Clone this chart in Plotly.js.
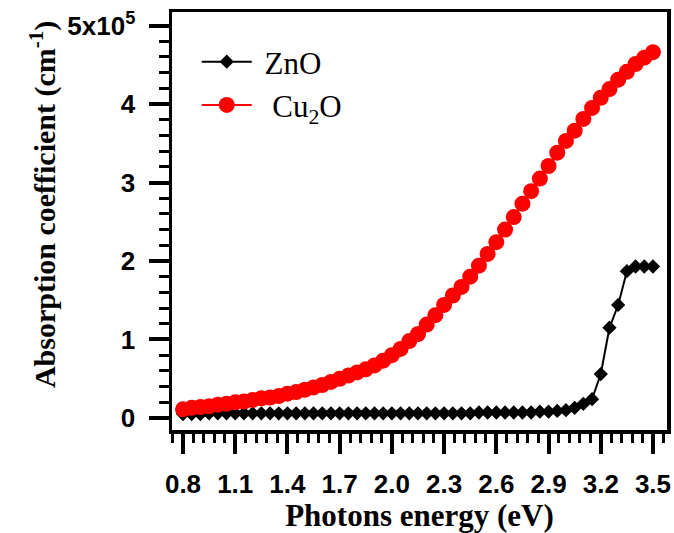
<!DOCTYPE html>
<html>
<head>
<meta charset="utf-8">
<script src="https://cdn.plot.ly/plotly-3.0.1.min.js"></script>
<style>html,body{margin:0;padding:0;background:#fff;}</style>
</head>
<body>
<div id="chart" style="width:674px;height:533px;"></div>
<script>
const energy = [0.80,0.85,0.90,0.95,1.00,1.05,1.10,1.15,1.20,1.25,
  1.30,1.35,1.40,1.45,1.50,1.55,1.60,1.65,1.70,1.75,
  1.80,1.85,1.90,1.95,2.00,2.05,2.10,2.15,2.20,2.25,
  2.30,2.35,2.40,2.45,2.50,2.55,2.60,2.65,2.70,2.75,
  2.80,2.85,2.90,2.95,3.00,3.05,3.10,3.15,3.20,3.25,
  3.30,3.35,3.40,3.45,3.50];
const zno = [0.05,0.05,0.05,0.06,0.06,0.06,0.06,0.06,0.06,0.06,
  0.06,0.06,0.06,0.06,0.06,0.06,0.06,0.06,0.06,0.06,
  0.06,0.06,0.06,0.06,0.06,0.06,0.06,0.06,0.06,0.06,
  0.06,0.06,0.06,0.06,0.07,0.07,0.07,0.07,0.07,0.07,
  0.07,0.08,0.08,0.09,0.10,0.13,0.18,0.24,0.56,1.15,
  1.44,1.87,1.93,1.93,1.93];
const cu2o = [0.11,0.13,0.14,0.15,0.17,0.18,0.20,0.21,0.23,0.25,
  0.26,0.28,0.31,0.33,0.36,0.39,0.42,0.46,0.50,0.54,
  0.58,0.62,0.67,0.73,0.80,0.88,0.98,1.07,1.19,1.31,
  1.44,1.56,1.67,1.80,1.94,2.09,2.24,2.40,2.56,2.73,
  2.89,3.05,3.21,3.38,3.53,3.66,3.81,3.95,4.08,4.19,
  4.31,4.41,4.51,4.59,4.66];
const xTickVals = [0.8,1.1,1.4,1.7,2.0,2.3,2.6,2.9,3.2,3.5];
const xTickText = ["0.8","1.1","1.4","1.7","2.0","2.3","2.6","2.9","3.2","3.5"];
const yTickVals = [0,1,2,3,4,5];
const yTickText = ["0","1","2","3","4","5x10<sup>5</sup>"];
const seriesNames = ["&#160;ZnO", "&#160;&#160;Cu<sub>2</sub>O"];
const yTitle = "Absorption coefficient (cm<sup>-1</sup>)";
const xTitle = "Photons energy (eV)";

const traces = [
  {x: energy, y: zno, name: seriesNames[0], type: 'scatter', mode: 'lines+markers',
   line: {color: '#000000', width: 2},
   marker: {symbol: 'diamond', size: 11, color: '#000000'}},
  {x: energy, y: cu2o, name: seriesNames[1], type: 'scatter', mode: 'lines+markers',
   line: {color: '#ff0000', width: 2},
   marker: {symbol: 'circle', size: 16, color: '#ff0000'}}
];

const tickFont = {family: 'Liberation Sans, Arial, sans-serif', size: 26, color: '#000', weight: 'bold'};
const titleFont = {family: 'Liberation Serif, Times New Roman, serif', size: 31, color: '#000', weight: 'bold'};

const layout = {
  width: 674, height: 533,
  margin: {l: 172, r: 7, t: 12, b: 103},
  paper_bgcolor: '#fff', plot_bgcolor: '#fff',
  showlegend: true,
  legend: {x: 0.05, y: 0.945, xanchor: 'left', yanchor: 'top',
    bgcolor: 'rgba(0,0,0,0)', borderwidth: 0, itemwidth: 50,
    font: {family: 'Liberation Serif, Times New Roman, serif', size: 31, color: '#000'}},
  xaxis: {
    range: [0.7368, 3.5805], showgrid: false, zeroline: false,
    showline: true, linecolor: '#000', linewidth: 3.5, mirror: true,
    ticks: 'outside', ticklen: 20, tickwidth: 4, tickcolor: '#000',
    tickmode: 'array', tickvals: xTickVals, ticktext: xTickText,
    ticklabelstandoff: 8,
    minor: {dtick: 0.06, tick0: 0.8, ticks: 'outside', ticklen: 9, tickwidth: 3, tickcolor: '#000', showgrid: false},
    tickfont: tickFont,
    title: {text: xTitle, font: titleFont, standoff: 0}
  },
  yaxis: {
    range: [-0.153, 5.172], showgrid: false, zeroline: false,
    showline: true, linecolor: '#000', linewidth: 3.5, mirror: true,
    ticks: 'outside', ticklen: 20, tickwidth: 4, tickcolor: '#000',
    tickmode: 'array', tickvals: yTickVals, ticktext: yTickText,
    ticklabelstandoff: 8,
    minor: {dtick: 0.2, tick0: 0, ticks: 'outside', ticklen: 10, tickwidth: 3, tickcolor: '#000', showgrid: false},
    tickfont: tickFont
  },
  annotations: [{
    text: yTitle, textangle: -90, showarrow: false,
    xref: 'paper', yref: 'paper', x: -0.2606, y: 0.538,
    xanchor: 'center', yanchor: 'middle',
    font: {family: 'Liberation Serif, Times New Roman, serif', size: 30, color: '#000', weight: 'bold'}
  }]
};

Plotly.newPlot('chart', traces, layout, {displayModeBar: false, staticPlot: true});
</script>
</body>
</html>
